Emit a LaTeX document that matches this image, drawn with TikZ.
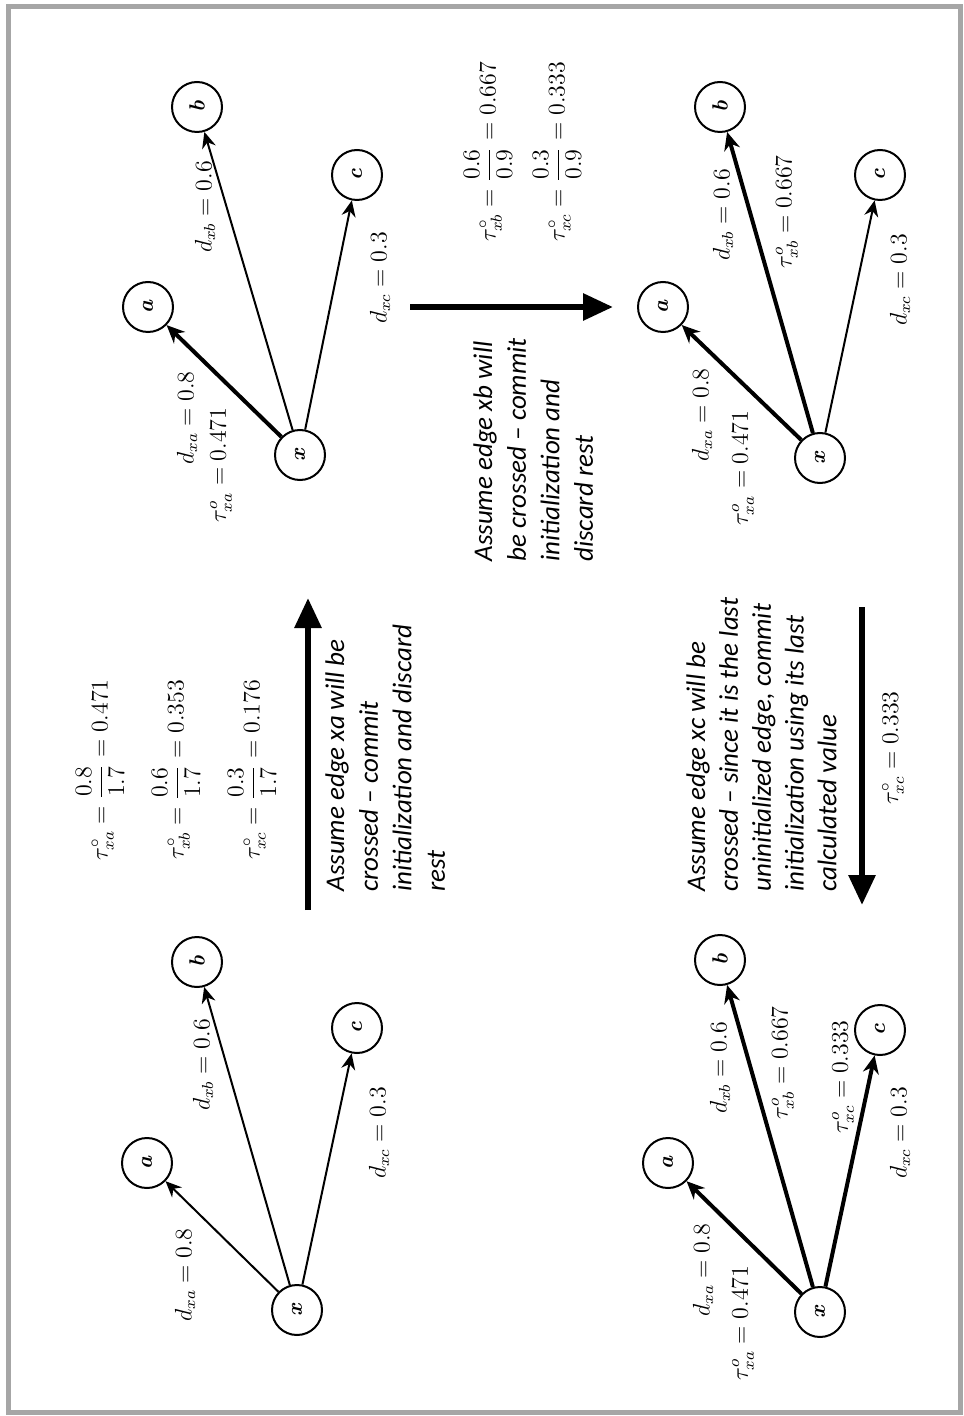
\documentclass[tikz,border=0pt]{standalone}
\usepackage{amsmath}
\usepackage{fontspec}
\newfontfamily\notefont[Ligatures=TeX]{Carlito}
\usetikzlibrary{arrows.meta}
\definecolor{framegray}{RGB}{166,166,166}
\begin{document}
\begin{tikzpicture}[x=0.5pt,y=-0.5pt,
  vtx/.style={circle,draw,line width=1pt,minimum size=25pt,inner sep=0pt,font=\fontsize{11}{13}\selectfont\bfseries\itshape,rotate=90},
  thinedge/.style={line width=1pt,-{Stealth[length=8pt,width=7pt]}},
  boldedge/.style={line width=2pt,-{Stealth[length=9pt,width=8pt]}},
  lbl/.style={rotate=90,font=\fontsize{12}{14}\selectfont,inner sep=0pt},
  bigarrow/.style={line width=3pt,-{Triangle[length=15pt,width=13pt]}},
  notetext/.style={rotate=90,anchor=north west,align=left,inner sep=0pt,font=\notefont\itshape\fontsize{13.5}{16.8}\selectfont},
  formula/.style={rotate=90,font=\fontsize{12}{14}\selectfont,inner sep=0pt}]
\useasboundingbox (0,0) rectangle (963,1416);
\draw[framegray,line width=2.5pt] (8.5,6.5) rectangle (960.5,1412);

% Panel 1
\node[vtx] (x1) at (297,1310) {x};
\node[vtx] (a1) at (147,1163) {a};
\node[vtx] (b1) at (197,962) {b};
\node[vtx] (c1) at (357,1028) {c};
\draw[thinedge] (x1) -- (a1);
\draw[thinedge] (x1) -- (b1);
\draw[thinedge] (x1) -- (c1);
\node[lbl] (p1da) at (185,1275) {$d_{xa} = 0.8$};
\node[lbl] (p1db) at (203,1065) {$d_{xb} = 0.6$};
\node[lbl] (p1dc) at (379,1133) {$d_{xc} = 0.3$};

% Panel 2
\node[vtx] (x2) at (300,455) {x};
\node[vtx] (a2) at (148,307) {a};
\node[vtx] (b2) at (197,107) {b};
\node[vtx] (c2) at (357,175) {c};
\draw[boldedge] (x2) -- (a2);
\draw[thinedge] (x2) -- (b2);
\draw[thinedge] (x2) -- (c2);
\node[lbl] (p2da) at (187,418) {$d_{xa} = 0.8$};
\node[lbl] (p2ta) at (221,465) {$\tau^{o}_{xa} = 0.471$};
\node[lbl] (p2db) at (205,207) {$d_{xb} = 0.6$};
\node[lbl] (p2dc) at (380,278) {$d_{xc} = 0.3$};

% Panel 3
\node[vtx] (x3) at (820,458) {x};
\node[vtx] (a3) at (663,307) {a};
\node[vtx] (b3) at (720,107) {b};
\node[vtx] (c3) at (880,175) {c};
\draw[boldedge] (x3) -- (a3);
\draw[boldedge] (x3) -- (b3);
\draw[thinedge] (x3) -- (c3);
\node[lbl] (p3da) at (702,415) {$d_{xa} = 0.8$};
\node[lbl] (p3ta) at (743,468) {$\tau^{o}_{xa} = 0.471$};
\node[lbl] (p3db) at (723,215) {$d_{xb} = 0.6$};
\node[lbl] (p3tb) at (787,212) {$\tau^{o}_{xb} = 0.667$};
\node[lbl] (p3dc) at (900,280) {$d_{xc} = 0.3$};

% Panel 4
\node[vtx] (x4) at (820,1312) {x};
\node[vtx] (a4) at (668,1163) {a};
\node[vtx] (b4) at (720,960) {b};
\node[vtx] (c4) at (880,1030) {c};
\draw[boldedge] (x4) -- (a4);
\draw[boldedge] (x4) -- (b4);
\draw[boldedge] (x4) -- (c4);
\node[lbl] (p4da) at (703,1270) {$d_{xa} = 0.8$};
\node[lbl] (p4ta) at (743,1323) {$\tau^{o}_{xa} = 0.471$};
\node[lbl] (p4db) at (720,1068) {$d_{xb} = 0.6$};
\node[lbl] (p4tb) at (783,1063) {$\tau^{o}_{xb} = 0.667$};
\node[lbl] (p4tc) at (843,1077) {$\tau^{o}_{xc} = 0.333$};
\node[lbl] (p4dc) at (900,1133) {$d_{xc} = 0.3$};

% Step 1
\coordinate (s1a) at (308,910);
\coordinate (s1b) at (308,598);
\draw[bigarrow] (s1a) -- (s1b);
\node[formula] (f11) at (100,770) {$\tau^{\circ}_{xa} = \dfrac{0.8}{1.7} = 0.471$};
\node[formula] (f12) at (176,770) {$\tau^{\circ}_{xb} = \dfrac{0.6}{1.7} = 0.353$};
\node[formula] (f13) at (252,770) {$\tau^{\circ}_{xc} = \dfrac{0.3}{1.7} = 0.176$};
\node[notetext] (t1) at (325,892) {Assume edge xa will be\\crossed – commit\\initialization and discard\\rest};

% Step 2
\coordinate (s2a) at (410,307);
\coordinate (s2b) at (613,307);
\draw[bigarrow] (s2a) -- (s2b);
\node[formula] (f21) at (488,152) {$\tau^{\circ}_{xb} = \dfrac{0.6}{0.9} = 0.667$};
\node[formula] (f22) at (557,152) {$\tau^{\circ}_{xc} = \dfrac{0.3}{0.9} = 0.333$};
\node[notetext] (t2) at (473,562) {Assume edge xb will\\be crossed – commit\\initialization and\\discard rest};

% Step 3
\coordinate (s3a) at (862,607);
\coordinate (s3b) at (862,905);
\draw[bigarrow] (s3a) -- (s3b);
\node[formula] (f31) at (893,748) {$\tau^{\circ}_{xc} = 0.333$};
\node[notetext,font=\notefont\itshape\fontsize{13.5}{16.4}\selectfont] (t3) at (686,892) {Assume edge xc will be\\crossed – since it is the last\\uninitialized edge, commit\\initialization using its last\\calculated value};
\end{tikzpicture}
\end{document}
